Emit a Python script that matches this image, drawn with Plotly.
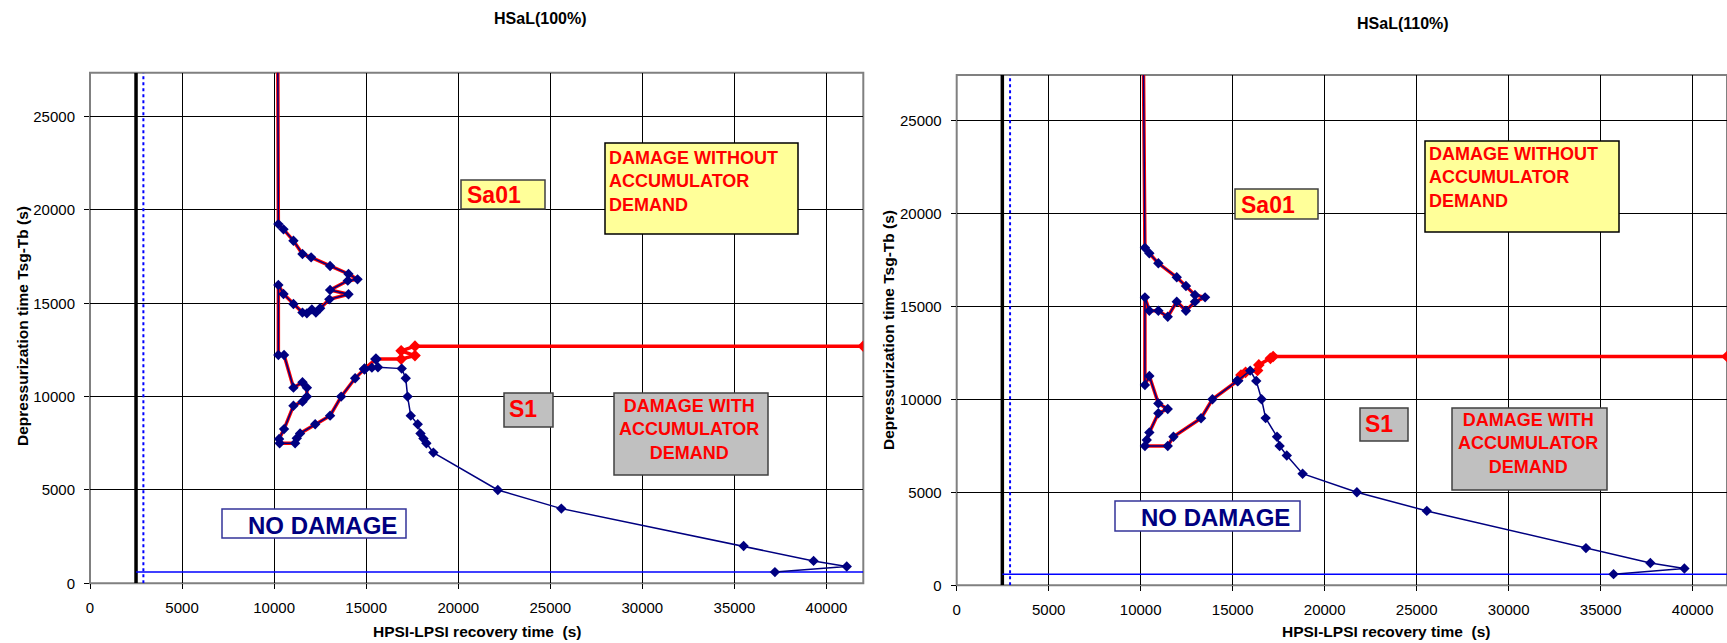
import plotly.graph_objects as go

W, H = 1727, 643

# ---------------- data ----------------
titles = ["HSaL(100%)", "HSaL(110%)"]
x_title = "HPSI-LPSI recovery time  (s)"
y_title = "Depressurization time Tsg-Tb (s)"
x_ticks = [0, 5000, 10000, 15000, 20000, 25000, 30000, 35000, 40000]
y_ticks = [0, 5000, 10000, 15000, 20000, 25000]

# HSaL(100%) - common boundary path (Sa01 / S1 loops)
loop100_x = [10200, 10230, 10510, 11050, 11540, 12010, 13040, 14040, 14530, 14000,
             13040, 14040, 13000, 12500, 12270, 12050, 11780, 11540, 11050, 10510,
             10230, 10230, 10540, 11050, 11540, 11780, 11780, 11540, 11050, 10540,
             10270, 10300, 11140, 11230, 11410, 12230, 13040, 13640, 14400, 14910]
loop100_y = [28000, 19240, 18960, 18350, 17640, 17460, 17000, 16570, 16280, 16210,
             15710, 15480, 15210, 14730, 14500, 14670, 14460, 14500, 14960, 15500,
             15980, 12230, 12230, 10480, 10770, 10480, 10000, 9730, 9510, 8260,
             7730, 7500, 7500, 7770, 8030, 8520, 8980, 10000, 10980, 11480]
# accumulator-demand branch (red)
red100_x = [14910, 15530, 16900, 17650, 16900, 17650, 42000]
red100_y = [11480, 12010, 12010, 12200, 12450, 12700, 12700]
# no-damage branch (navy)
navy100_x = [14910, 15310, 15640, 16930, 17150, 17250, 17420, 17800, 17950, 18110,
             18270, 18650, 22150, 25600, 35500, 39300, 41100, 37200]
navy100_y = [11480, 11550, 11570, 11500, 10980, 10000, 8980, 8520, 8020, 7750,
             7500, 7000, 5000, 4000, 2000, 1200, 900, 600]

# HSaL(110%)
loop110_x = [10150, 10230, 10470, 10960, 11960, 12460, 12950, 13500, 12950, 12460,
             11960, 11470, 10960, 10470, 10230, 10230, 10470, 10960, 11470, 10960,
             10470, 10330, 10230, 11470, 11780, 13280, 13900, 15270]
loop110_y = [28000, 18150, 17850, 17310, 16560, 16090, 15610, 15480, 15250, 14760,
             15250, 14440, 14760, 14760, 15480, 10770, 11250, 9780, 9480, 9250,
             8220, 7810, 7490, 7490, 7990, 8980, 10000, 11000]
red110_x = [15270, 15450, 15700, 16350, 16420, 17050, 17200, 41866]
red110_y = [11000, 11300, 11450, 11550, 11850, 12200, 12300, 12300]
navy110_x = [15270, 15950, 16280, 16570, 16790, 17410, 17550, 17940, 18800, 21750,
             25550, 34200, 37700, 39550, 35700]
navy110_y = [11000, 11540, 10990, 10000, 8990, 7990, 7490, 6980, 6000, 5000,
             4000, 2000, 1200, 900, 600]

# limit lines
limit_black_x = [2500, 2480]
limit_dotted_x = [2900, 2900]
no_damage_y = [600, 600]
x_max = [42000, 41866]
y_max = [27350, 27440]

# ---------------- styling / layout ----------------
NAVY = "#000080"
RED = "#FF0000"
FONT = "Liberation Sans, Arial, sans-serif"

# pixel geometry of the two plot areas (left, right, top, bottom)
areas = [(90, 863.3, 72.7, 583.3), (956.7, 1727, 74.9, 585.3)]


def px(xp):
    return xp / W


def py(yp):
    return 1 - yp / H


fig = go.Figure()

datasets = [
    (loop100_x, loop100_y, red100_x, red100_y, navy100_x, navy100_y),
    (loop110_x, loop110_y, red110_x, red110_y, navy110_x, navy110_y),
]

for i, (lx, ly, rx, ry, nx, ny) in enumerate(datasets):
    xa = "x" if i == 0 else "x2"
    ya = "y" if i == 0 else "y2"
    # thick black limit
    fig.add_trace(go.Scatter(x=[limit_black_x[i]] * 2, y=[0, y_max[i]], mode="lines",
                             line=dict(color="black", width=3.5), xaxis=xa, yaxis=ya,
                             showlegend=False, hoverinfo="skip"))
    # dotted blue limit
    fig.add_trace(go.Scatter(x=[limit_dotted_x[i]] * 2, y=[0, y_max[i]], mode="lines",
                             line=dict(color="#0000FF", width=2, dash="dot"), xaxis=xa, yaxis=ya,
                             showlegend=False, hoverinfo="skip"))
    # horizontal blue limit
    fig.add_trace(go.Scatter(x=[limit_black_x[i], x_max[i]], y=no_damage_y, mode="lines",
                             line=dict(color="#0000FF", width=1.5), xaxis=xa, yaxis=ya,
                             showlegend=False, hoverinfo="skip"))
    # red boundary line (loops + accumulator branch)
    fig.add_trace(go.Scatter(x=lx + rx[1:], y=ly + ry[1:], mode="lines",
                             line=dict(color=RED, width=3.5), xaxis=xa, yaxis=ya,
                             showlegend=False, hoverinfo="skip"))
    # red markers on accumulator branch
    mcols = [NAVY, NAVY] + [RED] * (len(rx) - 2) if i == 0 else [NAVY] + [RED] * (len(rx) - 1)
    fig.add_trace(go.Scatter(x=rx, y=ry, mode="markers",
                             marker=dict(symbol="diamond", size=9, color=mcols),
                             xaxis=xa, yaxis=ya, showlegend=False, hoverinfo="skip"))
    # navy boundary line with markers
    fig.add_trace(go.Scatter(x=lx + nx[1:], y=ly + ny[1:], mode="lines+markers",
                             line=dict(color=NAVY, width=1.5),
                             marker=dict(symbol="diamond", size=8, color=NAVY),
                             xaxis=xa, yaxis=ya, showlegend=False, hoverinfo="skip"))

axis_common = dict(showgrid=True, gridcolor="black", gridwidth=1, zeroline=False,
                   showline=False, ticks="outside", ticklen=5, tickcolor="black",
                   automargin=False,
                   tickfont=dict(family=FONT, size=15, color="black"))

layout_axes = {}
for i, (l, r, t, b) in enumerate(areas):
    sx = "" if i == 0 else "2"
    layout_axes["xaxis" + sx] = dict(axis_common, domain=[px(l), px(r)], range=[0, x_max[i]],
                                      tickvals=x_ticks, ticktext=[str(v) for v in x_ticks],
                                      anchor="y" + sx, ticklabelstandoff=6)
    layout_axes["yaxis" + sx] = dict(axis_common, domain=[py(b), py(t)], range=[0, y_max[i]],
                                      tickvals=y_ticks, ticktext=[str(v) for v in y_ticks],
                                      anchor="x" + sx, ticklabelstandoff=6)

shapes = []
annotations = []

# frames of the plot areas
for i, (l, r, t, b) in enumerate(areas):
    shapes.append(dict(type="rect", xref="paper", yref="paper", x0=px(l), x1=px(r),
                       y0=py(b), y1=py(t), line=dict(color="#808080", width=2), layer="below"))


def box(x0, y0, x1, y1, fill, border, bw=1.5):
    shapes.append(dict(type="rect", xref="paper", yref="paper", x0=px(x0), x1=px(x1),
                       y0=py(y1), y1=py(y0), fillcolor=fill,
                       line=dict(color=border, width=bw), layer="above"))


def text(xp, yp, s, size, color, xanchor="center", align="center", bold=True, angle=0):
    annotations.append(dict(xref="paper", yref="paper", x=px(xp), y=py(yp), text=("<b>%s</b>" % s) if bold else s,
                            showarrow=False, xanchor=xanchor, yanchor="middle", align=align,
                            textangle=angle, font=dict(family=FONT, size=size, color=color)))


YELLOW = "#FFFF99"
GRAY = "#C0C0C0"
BORDER = "#404040"

# left chart boxes
box(461, 180, 545, 209, YELLOW, BORDER)
text(465, 195, "Sa01", 23, RED, xanchor="left")
box(605, 143, 798, 234, YELLOW, "black")
text(607, 181, "DAMAGE WITHOUT<br>ACCUMULATOR<br>DEMAND", 18, RED, xanchor="left", align="left")
box(504, 393, 553, 427, GRAY, BORDER)
text(507, 409, "S1", 23, RED, xanchor="left")
box(614, 393, 768, 475, GRAY, BORDER)
text(689, 429, "DAMAGE WITH<br>ACCUMULATOR<br>DEMAND", 18, RED, align="center")
box(222, 509, 406, 538, "white", "#333399")
text(322, 525, "NO DAMAGE", 24, NAVY)

# right chart boxes
box(1235, 189, 1318, 219, YELLOW, BORDER)
text(1239, 205, "Sa01", 23, RED, xanchor="left")
box(1425, 141, 1619, 232, YELLOW, "black")
text(1427, 177, "DAMAGE WITHOUT<br>ACCUMULATOR<br>DEMAND", 18, RED, xanchor="left", align="left")
box(1360, 408, 1408, 441, GRAY, BORDER)
text(1363, 424, "S1", 23, RED, xanchor="left")
box(1452, 408, 1607, 490, GRAY, BORDER)
text(1528, 443, "DAMAGE WITH<br>ACCUMULATOR<br>DEMAND", 18, RED, align="center")
box(1115, 501, 1300, 531, "white", "#333399")
text(1215, 517, "NO DAMAGE", 24, NAVY)

# titles
text(540, 19, titles[0], 16, "black")
text(1403, 23, titles[1], 16, "black")
# axis titles
text(477, 631, x_title, 15.5, "black")
text(1386, 631, x_title, 15.5, "black")
text(22, 326, y_title, 15.5, "black", angle=-90)
text(888, 330, y_title, 15.5, "black", angle=-90)

fig.update_layout(width=W, height=H, autosize=False,
                  margin=dict(l=0, r=0, t=0, b=0, pad=0, autoexpand=False),
                  paper_bgcolor="white", plot_bgcolor="white",
                  shapes=shapes, annotations=annotations, showlegend=False,
                  font=dict(family=FONT), **layout_axes)

post = """
(function(){
  var h = document.documentElement, b = document.body;
  [h, b].forEach(function(e){
    e.style.margin = '0px'; e.style.padding = '0px';
    e.style.width = '%dpx'; e.style.height = '%dpx'; e.style.overflow = 'hidden';
  });
})();
""" % (W, H)

fig.write_html("out.html",
               config={"responsive": False, "displayModeBar": False},
               post_script=post)
